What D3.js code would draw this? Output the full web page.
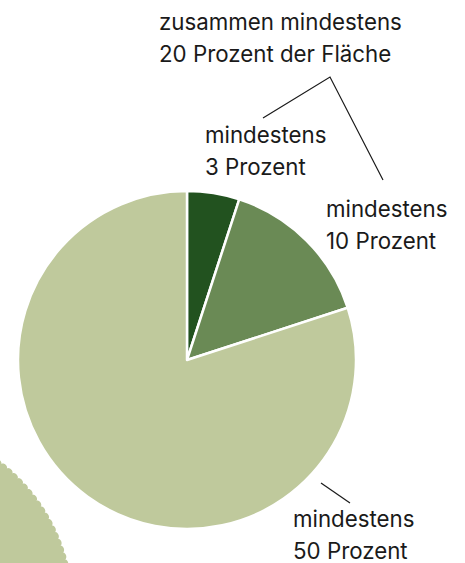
<!DOCTYPE html>
<html>
<head>
<meta charset="utf-8">
<script src="https://cdn.jsdelivr.net/npm/d3@7"></script>
<style>
  html, body { margin: 0; padding: 0; background: #fff; }
  svg { display: block; }
  text { font-family: Inter, "Noto Sans", sans-serif; fill: #1a1a1a; }
</style>
</head>
<body>
<div id="chart"></div>
<script>
// Flächenanteile
const categories = ['mindestens 3 Prozent', 'mindestens 10 Prozent', 'mindestens 50 Prozent'];
const shares = [5, 15, 80];
const colors = ['#22521f', '#6a8a55', '#bfc99c'];

const labelLines = [
  ['mindestens', '3 Prozent'],
  ['mindestens', '10 Prozent'],
  ['mindestens', '50 Prozent']
];
const groupLabel = ['zusammen mindestens', '20 Prozent der Fläche'];

const width = 465, height = 563;
const cx = 187, cy = 360, radius = 169;

const svg = d3.select('#chart').append('svg')
  .attr('width', width)
  .attr('height', height);

// dekorativer Kreis unten links (gewellter Rand)
const deco = d3.lineRadial()
  .angle(d => d)
  .radius(d => 186 + 2.2 * Math.sqrt(Math.abs(Math.sin(d * 80))))
  .curve(d3.curveLinearClosed);
svg.append('path')
  .attr('transform', 'translate(-114,610)')
  .attr('d', deco(d3.range(0, 2 * Math.PI, Math.PI / 2000)))
  .attr('fill', colors[2]);

const data = categories.map((c, i) => ({name: c, value: shares[i], color: colors[i], lines: labelLines[i]}));

const pie = d3.pie().sort(null).value(d => d.value);
const arc = d3.arc().innerRadius(0).outerRadius(radius);

const g = svg.append('g').attr('transform', `translate(${cx},${cy})`);
g.selectAll('path.slice')
  .data(pie(data))
  .join('path')
  .attr('class', 'slice')
  .attr('d', arc)
  .attr('fill', d => d.data.color)
  .attr('stroke', '#fff')
  .attr('stroke-width', 2.5)
  .attr('stroke-linejoin', 'round');

// Beschriftungen
const fontSize = 22.3, lineH = 32;
const labelPos = [[205, 143], [326, 217], [293, 527]];

function addLabel(lines, x, y) {
  const t = svg.append('text')
    .attr('x', x).attr('y', y)
    .attr('font-size', fontSize);
  lines.forEach((l, i) => {
    t.append('tspan').attr('x', x).attr('dy', i === 0 ? 0 : lineH).text(l);
  });
}

data.forEach((d, i) => addLabel(d.lines, labelPos[i][0], labelPos[i][1]));
addLabel(groupLabel, 159, 30);

// Verbindungslinien
const leaders = [
  [[263, 118], [330, 77], [383, 180]],
  [[321, 483], [350, 503]]
];
svg.selectAll('path.leader')
  .data(leaders)
  .join('path')
  .attr('class', 'leader')
  .attr('d', d3.line())
  .attr('fill', 'none')
  .attr('stroke', '#1a1a1a')
  .attr('stroke-width', 1.2);
</script>
</body>
</html>
